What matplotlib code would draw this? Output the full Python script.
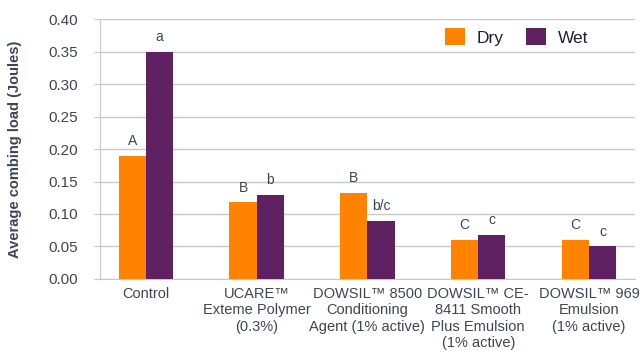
import numpy as np
import matplotlib
matplotlib.use("Agg")
import matplotlib.pyplot as plt

plt.rcParams['font.family'] = ['Liberation Sans', 'DejaVu Sans']

categories = [
    "Control",
    "UCARE™\nExteme Polymer\n(0.3%)",
    "DOWSIL™ 8500\nConditioning\nAgent (1% active)",
    "DOWSIL™ CE-\n8411 Smooth\nPlus Emulsion\n(1% active)",
    "DOWSIL™ 969\nEmulsion\n(1% active)",
]
dry = [0.19, 0.118, 0.132, 0.060, 0.060]
wet = [0.35, 0.130, 0.089, 0.068, 0.050]
dry_letters = ["A", "B", "B", "C", "C"]
wet_letters = ["a", "b", "b/c", "c", "c"]

text_color = "#3d4555"
grid_color = "#c8c8c8"

fig = plt.figure(figsize=(6.44, 3.54), dpi=100)
ax = fig.add_axes([0.155, 0.212, 0.831, 0.734])

x = np.arange(len(categories))
w = 0.245
ax.bar(x - w / 2, dry, w, color="#FF8300", label="Dry", zorder=3)
ax.bar(x + w / 2, wet, w, color="#5F2161", label="Wet", zorder=3)

for i in range(len(categories)):
    ax.text(x[i] - w / 2, dry[i] + 0.012, dry_letters[i], ha="center", va="bottom",
            fontsize=10, color=text_color)
    ax.text(x[i] + w / 2, wet[i] + 0.012, wet_letters[i], ha="center", va="bottom",
            fontsize=10, color=text_color)

ax.set_xlim(-0.415, len(categories) - 1 + 0.415)
ax.set_ylim(0, 0.40)
ax.set_yticks(np.arange(0, 0.41, 0.05))
ax.set_yticklabels([f"{v:.2f}" for v in np.arange(0, 0.41, 0.05)])
ax.set_xticks(x)
ax.set_xticklabels(categories, fontsize=10.5, color=text_color, linespacing=1.2)
ax.tick_params(axis="x", length=0, pad=6)
ax.tick_params(axis="y", labelsize=11, labelcolor=text_color, color=grid_color,
               length=4, pad=12)
ax.yaxis.grid(True, color=grid_color, linewidth=1, zorder=0)
for s in ["top", "right"]:
    ax.spines[s].set_visible(False)
ax.spines["left"].set_color(grid_color)
ax.spines["bottom"].set_color(grid_color)

ax.set_ylabel("Average combing load (Joules)", fontsize=10.5, color=text_color,
              fontweight="bold", labelpad=19)

ax.legend(loc="upper left", bbox_to_anchor=(0.615, 1.025), ncol=2, frameon=False,
          fontsize=12.5, handlelength=1.15, handleheight=1.15, columnspacing=1.3,
          handletextpad=0.7, labelcolor="#1c2030")

fig.savefig("out.png", dpi=100)
